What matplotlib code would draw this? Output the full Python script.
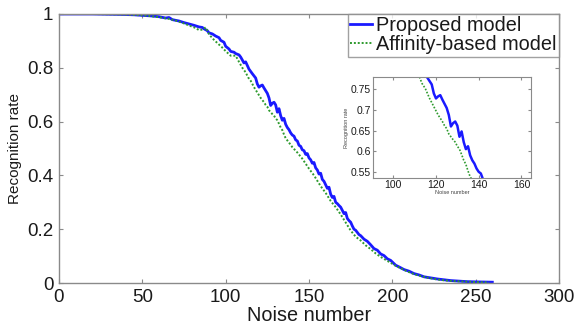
import matplotlib
matplotlib.use("Agg")
import matplotlib.pyplot as plt

plt.rcParams['font.family'] = ['Liberation Sans', 'DejaVu Sans']

# ---- data ----
blue_x = [0, 10, 20, 30, 40, 45, 50, 55, 60, 64, 66, 68, 72, 75, 78, 81, 84, 86, 87, 89, 90,
          92, 94, 96, 97, 99, 100, 102, 103, 105, 106, 108, 109, 111, 112, 114, 116, 117, 118,
          119, 120, 121, 122, 123, 124, 125, 126, 127, 128, 129, 130, 131, 132, 133, 134, 135,
          136, 137, 138, 139, 140, 141, 142, 143, 144, 145, 146, 147, 148, 149, 150, 151, 152,
          153, 154, 155, 156, 157, 158, 159, 160, 161, 162, 163, 164, 165, 166, 167, 168, 169,
          170, 171, 172, 173, 174, 175, 176, 177, 178, 179, 180, 181, 183, 185, 187, 189, 191,
          193, 195, 197, 199, 202, 204, 207, 210, 213, 216, 219, 223, 227, 231, 235, 240, 245,
          252, 260]
blue_y = [1.0, 1.0, 1.0, 0.999, 0.998, 0.997, 0.995, 0.993, 0.990, 0.985, 0.987, 0.979, 0.974,
          0.968, 0.963, 0.958, 0.952, 0.950, 0.945, 0.938, 0.930, 0.926, 0.918, 0.912, 0.902,
          0.895, 0.880, 0.870, 0.861, 0.858, 0.853, 0.848, 0.840, 0.818, 0.822, 0.795, 0.778,
          0.770, 0.762, 0.740, 0.728, 0.733, 0.736, 0.725, 0.715, 0.705, 0.688, 0.660, 0.668,
          0.672, 0.662, 0.635, 0.648, 0.622, 0.605, 0.612, 0.590, 0.578, 0.570, 0.558, 0.550,
          0.546, 0.532, 0.528, 0.512, 0.508, 0.495, 0.492, 0.478, 0.481, 0.465, 0.458, 0.445,
          0.448, 0.428, 0.420, 0.405, 0.408, 0.385, 0.378, 0.365, 0.352, 0.356, 0.330, 0.318,
          0.322, 0.300, 0.295, 0.288, 0.282, 0.270, 0.258, 0.262, 0.240, 0.232, 0.226, 0.212,
          0.200, 0.196, 0.188, 0.180, 0.176, 0.163, 0.155, 0.142, 0.128, 0.122, 0.108, 0.102,
          0.090, 0.084, 0.066, 0.060, 0.050, 0.044, 0.035, 0.030, 0.023, 0.019, 0.015, 0.012,
          0.009, 0.007, 0.005, 0.004, 0.003]

green_x = [0, 10, 20, 30, 40, 50, 55, 60, 65, 70, 75, 79, 82, 84, 86, 88, 90, 92, 95, 98, 100,
           103, 106, 108, 110, 112, 113.5, 115, 116, 117, 118, 119, 120, 121, 122, 123, 124, 125,
           126, 127, 128, 129, 130, 131, 132, 133, 134, 135, 136, 138, 140, 143, 146, 150, 153,
           157, 160, 163, 166, 169, 172, 175, 178, 181, 184, 187, 190, 193, 196, 199, 202, 205,
           209, 213, 217, 221, 226, 231, 237, 245, 252, 258]
green_y = [1.0, 1.0, 1.0, 0.999, 0.998, 0.995, 0.992, 0.988, 0.983, 0.976, 0.965, 0.955, 0.948,
           0.940, 0.942, 0.950, 0.925, 0.910, 0.892, 0.875, 0.862, 0.845, 0.845, 0.822, 0.800,
           0.783, 0.764, 0.752, 0.740, 0.728, 0.718, 0.708, 0.698, 0.688, 0.680, 0.672, 0.662,
           0.655, 0.642, 0.635, 0.628, 0.622, 0.612, 0.605, 0.592, 0.578, 0.568, 0.552, 0.538,
           0.522, 0.505, 0.485, 0.462, 0.425, 0.400, 0.360, 0.335, 0.305, 0.282, 0.255, 0.225,
           0.195, 0.172, 0.158, 0.140, 0.126, 0.110, 0.097, 0.086, 0.075, 0.064, 0.055, 0.043,
           0.033, 0.026, 0.020, 0.014, 0.010, 0.007, 0.005, 0.003, 0.002]

series_labels = ["Proposed model", "Affinity-based model"]
x_ticks = [0, 50, 100, 150, 200, 250, 300]
y_ticks = [0, 0.2, 0.4, 0.6, 0.8, 1.0]
y_ticklabels = ["0", "0.2", "0.4", "0.6", "0.8", "1"]
inset_x_ticks = [100, 120, 140, 160]
inset_y_ticks = [0.55, 0.6, 0.65, 0.7, 0.75]
inset_y_ticklabels = ["0.55", "0.6", "0.65", "0.7", "0.75"]

BLUE = "#1a1aff"
GREEN = "#2e9a2e"
SPINE = "#8a8a8a"
TXT = "#1a1a1a"

fig = plt.figure(figsize=(5.77, 3.25), dpi=100)
ax = fig.add_axes([59/577, 42/325, 500/577, 269/325])

ax.plot(blue_x, blue_y, color=BLUE, lw=2.0, label=series_labels[0])
ax.plot(green_x, green_y, color=GREEN, lw=1.4, ls=(0, (1, 1)), label=series_labels[1])

ax.set_xlim(0, 300)
ax.set_ylim(0, 1)
ax.set_xticks(x_ticks)
ax.set_yticks(y_ticks)
ax.set_yticklabels(y_ticklabels)
ax.tick_params(direction='in', top=True, right=True, length=3, color=SPINE,
               labelsize=13.5, labelcolor=TXT, pad=4)
for s in ax.spines.values():
    s.set_color(SPINE)
    s.set_linewidth(1.0)
ax.set_xlabel("Noise number", fontsize=14.3, color=TXT, labelpad=0)
ax.set_ylabel("Recognition rate", fontsize=11, color=TXT, labelpad=4)

leg = ax.legend(loc='upper right', fontsize=14.3, handlelength=1.1, handletextpad=0.2,
                borderaxespad=0.0, borderpad=0.12, labelspacing=0.0, frameon=True,
                fancybox=False)
leg.get_frame().set_edgecolor(SPINE)
leg.get_frame().set_linewidth(1.0)
for t in leg.get_texts():
    t.set_color(TXT)

# inset
axi = fig.add_axes([373/577, (325-178)/325, 158/577, 101/325])
axi.plot(blue_x, blue_y, color=BLUE, lw=1.8)
axi.plot(green_x, green_y, color=GREEN, lw=1.2, ls=(0, (1, 1)))
axi.set_xlim(90.5, 164.5)
axi.set_ylim(0.535, 0.78)
axi.set_xticks(inset_x_ticks)
axi.set_yticks(inset_y_ticks)
axi.set_yticklabels(inset_y_ticklabels)
axi.tick_params(direction='in', top=True, right=True, length=2, color=SPINE,
                labelsize=7.5, labelcolor=TXT, pad=1.5)
for s in axi.spines.values():
    s.set_color(SPINE)
    s.set_linewidth(0.8)
axi.set_xlabel("Noise number", fontsize=4, color="#444444", labelpad=0)
axi.set_ylabel("Recognition rate", fontsize=4, color="#444444", labelpad=1)

fig.savefig("out.png", dpi=100)
